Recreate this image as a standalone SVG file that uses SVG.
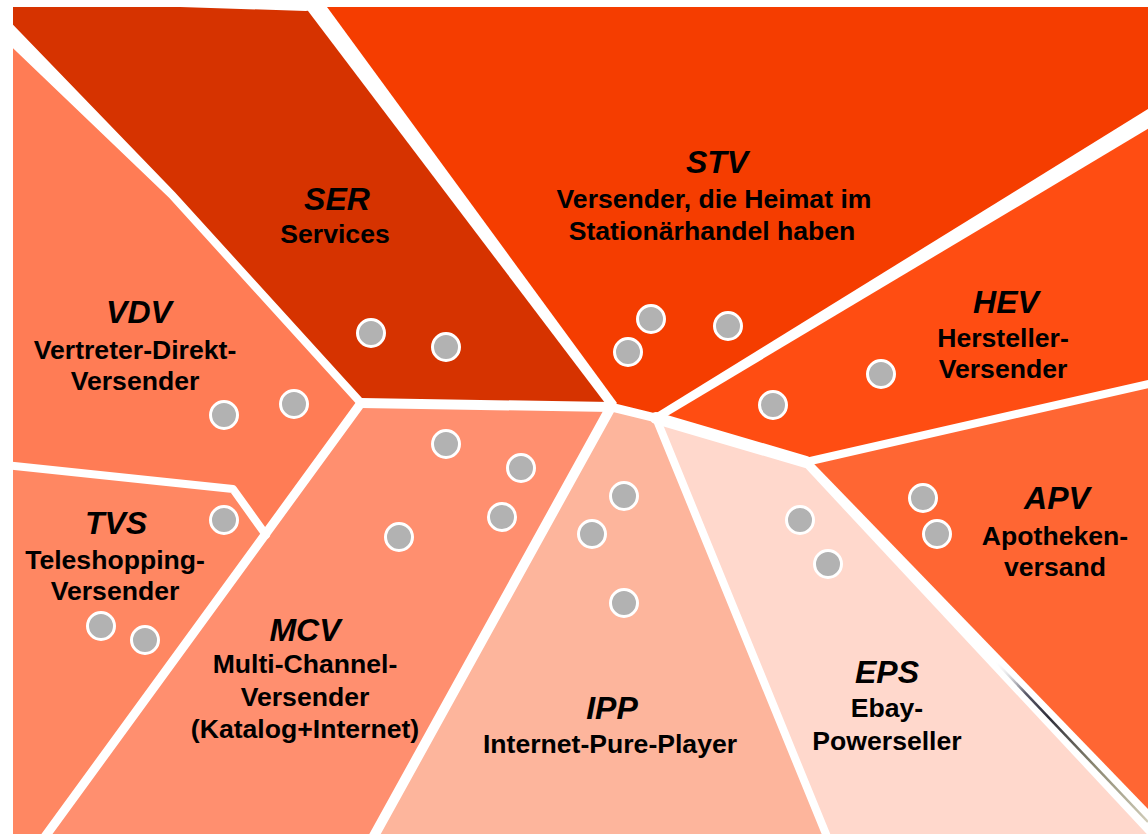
<svg xmlns="http://www.w3.org/2000/svg" width="1148" height="834" viewBox="0 0 1148 834">
<style>
.h{font-family:"Liberation Sans",Arial,sans-serif;font-weight:bold;font-style:italic;font-size:32px;fill:#000;text-anchor:middle}
.t{font-family:"Liberation Sans",Arial,sans-serif;font-weight:bold;font-size:26.6px;fill:#000;text-anchor:middle}
.dot{fill:#B2B2B2;stroke:#fff;stroke-width:3}
.b{fill:none;stroke:#fff;stroke-linecap:round;stroke-linejoin:round}
.bp{fill:#fff}
</style>
<defs>
<linearGradient id="shade" x1="995" y1="661" x2="1148" y2="822" gradientUnits="userSpaceOnUse">
<stop offset="0" stop-color="#ffffff" stop-opacity="0"/>
<stop offset="0.2" stop-color="#5a5a6a"/>
<stop offset="0.35" stop-color="#2e2e3a"/>
<stop offset="0.65" stop-color="#8a8670"/>
<stop offset="1" stop-color="#d0ccb8"/>
</linearGradient>
</defs>
<rect width="1148" height="834" fill="#fff"/>
<g id="region-SER"><polygon points="0,0 316,0 611,407 361,403 172,195 0,23.5" fill="#D63300"/></g>
<g id="region-STV"><polygon points="316,0 1160,0 1160,111.7 656,418 611,407" fill="#F53D00"/></g>
<g id="region-HEV"><polygon points="656,418 1160,111.7 1160,381.3 806,462" fill="#FF4D12"/></g>
<g id="region-APV"><polygon points="806,462 1160,381.3 1160,834.6" fill="#FF6633"/></g>
<g id="region-EPS"><polygon points="656,418 806,462 1160,834.6 1160,850 832.5,850" fill="#FFD8CC"/></g>
<g id="region-IPP"><polygon points="611,407 656,418 832.5,850 366.2,850" fill="#FDB59C"/></g>
<g id="region-MCV"><polygon points="361,403 611,407 366.2,850 35.3,850" fill="#FF8F6F"/></g>
<g id="region-TVS"><polygon points="0,464.6 233,489 266,535 35.3,850 0,850" fill="#FF8762"/></g>
<g id="region-VDV"><polygon points="0,23.5 172,195 361,403 266,535 233,489 0,464.6" fill="#FF7C55"/></g>
<g id="connectors">
<polygon class="bp" points="0,11.3 174.9,192.2 364,400.3 358,405.7 169.1,197.8 0,35.7"/>
<polygon class="bp" points="299.7,0 321.9,0 617,403 611,410 605,403"/>
<line class="b" x1="361" y1="403" x2="611" y2="407" stroke-width="10"/>
<line class="b" x1="361" y1="403" x2="35.3" y2="850" stroke-width="9"/>
<polyline class="b" points="0,464.6 233,489 266,535" stroke-width="8"/>
<line class="b" x1="611" y1="407" x2="366.2" y2="850" stroke-width="10"/>
<line class="b" x1="611" y1="407" x2="656" y2="418" stroke-width="9"/>
<polygon class="bp" points="658.1,421.4 1164.4,119 1155.6,104.4 653.9,414.6"/>
<line class="b" x1="656" y1="418" x2="806" y2="462" stroke-width="12"/>
<line class="b" x1="806" y1="462" x2="1160" y2="381.3" stroke-width="8"/>
<polygon class="bp" points="802.7,465.1 1153.3,841 1166.7,828.2 809.3,458.9"/>
<line class="b" x1="656" y1="418" x2="832.5" y2="850" stroke-width="8"/>
<line x1="995" y1="661" x2="1148" y2="822" stroke="url(#shade)" stroke-width="2.5"/>
<rect x="0" y="0" width="1148" height="7" fill="#fff"/>
<polygon points="150,6 306,11 330,6" fill="#fff"/>
<rect x="0" y="0" width="13" height="834" fill="#fff"/>
</g>
<g id="node-SER">
<circle class="dot" cx="371" cy="333" r="13.5"/><circle class="dot" cx="446" cy="347" r="13.5"/>
<text class="h" x="337" y="210">SER</text><text class="t" x="335" y="243">Services</text>
</g>
<g id="node-STV">
<circle class="dot" cx="651" cy="319" r="13.5"/><circle class="dot" cx="728" cy="326" r="13.5"/><circle class="dot" cx="628" cy="352" r="13.5"/>
<text class="h" x="717" y="173">STV</text><text class="t" x="714" y="208">Versender, die Heimat im</text><text class="t" x="712" y="240">Stationärhandel haben</text>
</g>
<g id="node-VDV">
<circle class="dot" cx="224" cy="415" r="13.5"/><circle class="dot" cx="294" cy="404" r="13.5"/>
<text class="h" x="139" y="323">VDV</text><text class="t" x="135" y="359">Vertreter-Direkt-</text><text class="t" x="135" y="390">Versender</text>
</g>
<g id="node-HEV">
<circle class="dot" cx="881" cy="374" r="13.5"/><circle class="dot" cx="773" cy="405" r="13.5"/>
<text class="h" x="1006" y="313">HEV</text><text class="t" x="1003" y="347">Hersteller-</text><text class="t" x="1003" y="378">Versender</text>
</g>
<g id="node-TVS">
<circle class="dot" cx="224" cy="520" r="13.5"/><circle class="dot" cx="101" cy="626" r="13.5"/><circle class="dot" cx="145" cy="640" r="13.5"/>
<text class="h" x="116" y="534">TVS</text><text class="t" x="115" y="569">Teleshopping-</text><text class="t" x="115" y="600">Versender</text>
</g>
<g id="node-APV">
<circle class="dot" cx="923" cy="498" r="13.5"/><circle class="dot" cx="937" cy="534" r="13.5"/>
<text class="h" x="1057" y="509">APV</text><text class="t" x="1055" y="545">Apotheken-</text><text class="t" x="1055" y="576">versand</text>
</g>
<g id="node-MCV">
<circle class="dot" cx="446" cy="444" r="13.5"/><circle class="dot" cx="521" cy="468" r="13.5"/><circle class="dot" cx="502" cy="517" r="13.5"/><circle class="dot" cx="399" cy="537" r="13.5"/>
<text class="h" x="305" y="641">MCV</text><text class="t" x="305" y="673">Multi-Channel-</text><text class="t" x="305" y="706">Versender</text><text class="t" x="305" y="738">(Katalog+Internet)</text>
</g>
<g id="node-IPP">
<circle class="dot" cx="624" cy="496" r="13.5"/><circle class="dot" cx="592" cy="534" r="13.5"/><circle class="dot" cx="624" cy="603" r="13.5"/>
<text class="h" x="612" y="719">IPP</text><text class="t" x="610" y="753">Internet-Pure-Player</text>
</g>
<g id="node-EPS">
<circle class="dot" cx="800" cy="520" r="13.5"/><circle class="dot" cx="828" cy="564" r="13.5"/>
<text class="h" x="887" y="683">EPS</text><text class="t" x="887" y="717">Ebay-</text><text class="t" x="887" y="750">Powerseller</text>
</g>
</svg>
